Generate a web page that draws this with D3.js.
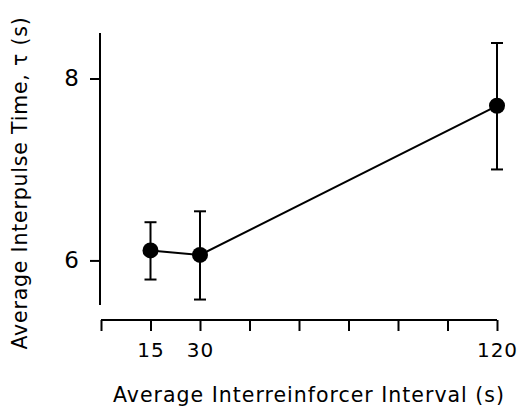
<!DOCTYPE html>
<html>
<head>
<meta charset="utf-8">
<script src="https://cdn.jsdelivr.net/npm/d3@7"></script>
<style>
  body { margin: 0; background: #fff; }
  text { font-family: "DejaVu Sans", sans-serif; fill: #000; }
</style>
</head>
<body>
<svg id="chart" width="519" height="409"></svg>
<script>
// data
const intervals = [15, 30, 120];
const meanTau = [6.11, 6.06, 7.70];
const errLow = [5.79, 5.57, 7.00];
const errHigh = [6.42, 6.54, 8.39];
const xTickValues = [0, 15, 30, 45, 60, 75, 90, 105, 120];
const xTickLabels = ["", "15", "30", "", "", "", "", "", "120"];
const yTickValues = [6, 8];

const svg = d3.select("#chart");

const x = d3.scaleLinear().domain([0, 120]).range([101, 497]);
const y = d3.scaleLinear().domain([5.51, 8.5]).range([305, 33]);

// y axis
const yAxis = svg.append("g").attr("transform", "translate(100,0)")
  .call(d3.axisLeft(y).tickValues(yTickValues).tickSize(10).tickPadding(11).tickFormat(d3.format("d")));
yAxis.select(".domain").attr("d", "M0," + y.range()[0] + "V" + y.range()[1]);
yAxis.selectAll(".tick text").style("font-size", "23px");

// x axis
const xAxis = svg.append("g").attr("transform", "translate(0,320)")
  .call(d3.axisBottom(x).tickValues(xTickValues).tickSize(11).tickPadding(12)
    .tickFormat((d, i) => xTickLabels[i]));
xAxis.select(".domain").attr("d", "M" + x.range()[0] + ",0H" + x.range()[1]);
xAxis.selectAll(".tick text").style("font-size", "20px").attr("letter-spacing", "1px");

svg.selectAll(".domain, .tick line").attr("stroke", "#000").attr("stroke-width", 2);
svg.selectAll(".tick text").style("font-family", "DejaVu Sans, sans-serif");

const pts = intervals.map((d, i) => ({ x: d, y: meanTau[i], lo: errLow[i], hi: errHigh[i] }));

// error bars
const eb = svg.append("g").attr("stroke", "#000").attr("stroke-width", 2);
pts.forEach(p => {
  eb.append("line").attr("x1", x(p.x)).attr("x2", x(p.x)).attr("y1", y(p.lo)).attr("y2", y(p.hi));
  eb.append("line").attr("x1", x(p.x) - 6).attr("x2", x(p.x) + 6).attr("y1", y(p.lo)).attr("y2", y(p.lo));
  eb.append("line").attr("x1", x(p.x) - 6).attr("x2", x(p.x) + 6).attr("y1", y(p.hi)).attr("y2", y(p.hi));
});

// connecting line
svg.append("path").datum(pts)
  .attr("fill", "none").attr("stroke", "#000").attr("stroke-width", 2)
  .attr("d", d3.line().x(d => x(d.x)).y(d => y(d.y)));

// markers
svg.append("g").selectAll("circle").data(pts).enter().append("circle")
  .attr("cx", d => x(d.x)).attr("cy", d => y(d.y)).attr("r", 8).attr("fill", "#000");

// axis labels
svg.append("text")
  .attr("x", 309).attr("y", 402)
  .attr("text-anchor", "middle")
  .attr("letter-spacing", "1px")
  .style("font-size", "20.5px")
  .text("Average Interreinforcer Interval (s)");

svg.append("text")
  .attr("transform", "translate(27,183) rotate(-90)")
  .attr("text-anchor", "middle")
  .attr("letter-spacing", "0.8px")
  .style("font-size", "20.5px")
  .text("Average Interpulse Time, τ (s)");
</script>
</body>
</html>
